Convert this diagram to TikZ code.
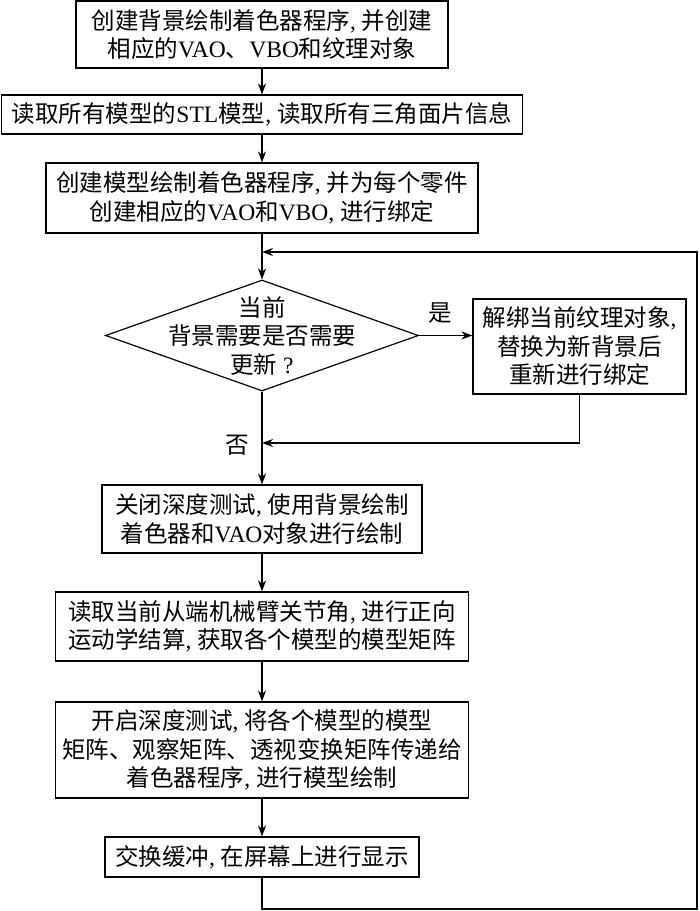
\documentclass[tikz,border=0pt]{standalone}
\usepackage{fontspec}
\setmainfont{Liberation Serif}
\newfontfamily\cjk{Noto Sans CJK SC}
\newcommand\lat[1]{{\rmfamily #1}}
\usetikzlibrary{arrows.meta,shapes.geometric}

\begin{document}
\begin{tikzpicture}[x=1pt,y=-1pt,line width=1.2pt,
	txt/.style={inner sep=0pt,align=center,font=\cjk\fontsize{23.5}{28.5}\selectfont},
	box/.style={txt,draw},
	dia/.style={draw,diamond,inner sep=0pt},
	arr/.style={-{Stealth[length=11pt,width=8pt]}}]
	\useasboundingbox (0,0) rectangle (700,911);
	\node[box,minimum width=372pt,minimum height=67pt] (b1) at (262,34.5) {创建背景绘制着色器程序\lat{, }并创建\\相应的\lat{VAO}、\lat{VBO}和纹理对象};
	\node[box,minimum width=521pt,minimum height=39pt] (b2) at (262,114.5) {读取所有模型的\lat{STL}模型\lat{, }读取所有三角面片信息};
	\node[box,minimum width=432pt,minimum height=70pt] (b3) at (262,198) {创建模型绘制着色器程序\lat{, }并为每个零件\\创建相应的\lat{VAO}和\lat{VBO}\lat{, }进行绑定};
	\node[dia,minimum width=313pt,minimum height=111pt] (d) at (262,335.5) {};
	\node[txt] (dt) at (262,336) {当前\\背景需要是否需要\\更新\lat{ ?}};
	\node[box,minimum width=213pt,minimum height=95pt] (b4) at (579.5,346.5) {解绑当前纹理对象\lat{,}\\替换为新背景后\\重新进行绑定};
	\node[box,minimum width=320pt,minimum height=68pt] (b5) at (262,519) {关闭深度测试\lat{, }使用背景绘制\\着色器和\lat{VAO}对象进行绘制};
	\node[box,minimum width=413pt,minimum height=69pt] (b6) at (262,626.5) {读取当前从端机械臂关节角\lat{, }进行正向\\运动学结算\lat{, }获取各个模型的模型矩阵};
	\node[box,minimum width=413pt,minimum height=96pt] (b7) at (262,750) {开启深度测试\lat{, }将各个模型的模型\\矩阵、观察矩阵、透视变换矩阵传递给\\着色器程序\lat{, }进行模型绘制};
	\node[box,minimum width=314pt,minimum height=40pt] (b8) at (262,857) {交换缓冲\lat{, }在屏幕上进行显示};
	\node[txt] (yes) at (440,313) {是};
	\node[txt] (no) at (237,445) {否};
	\coordinate (j) at (262,443);
	\coordinate (r) at (697,909);
	\coordinate (k) at (262,252);
%	main flow
	\draw[arr] (b1) -- (b2);
	\draw[arr] (b2) -- (b3);
	\draw[arr] (b3) -- (d);
	\draw[arr] (d.east) -- (d.east -| b4.west);
	\draw[arr] (b4.south) |- (j);
	\draw[arr] (d) -- (b5);
	\draw[arr] (b5) -- (b6);
	\draw[arr] (b6) -- (b7);
	\draw[arr] (b7) -- (b8);
	\draw[arr] (b8.south) |- (r) |- (k);
\end{tikzpicture}
\end{document}
